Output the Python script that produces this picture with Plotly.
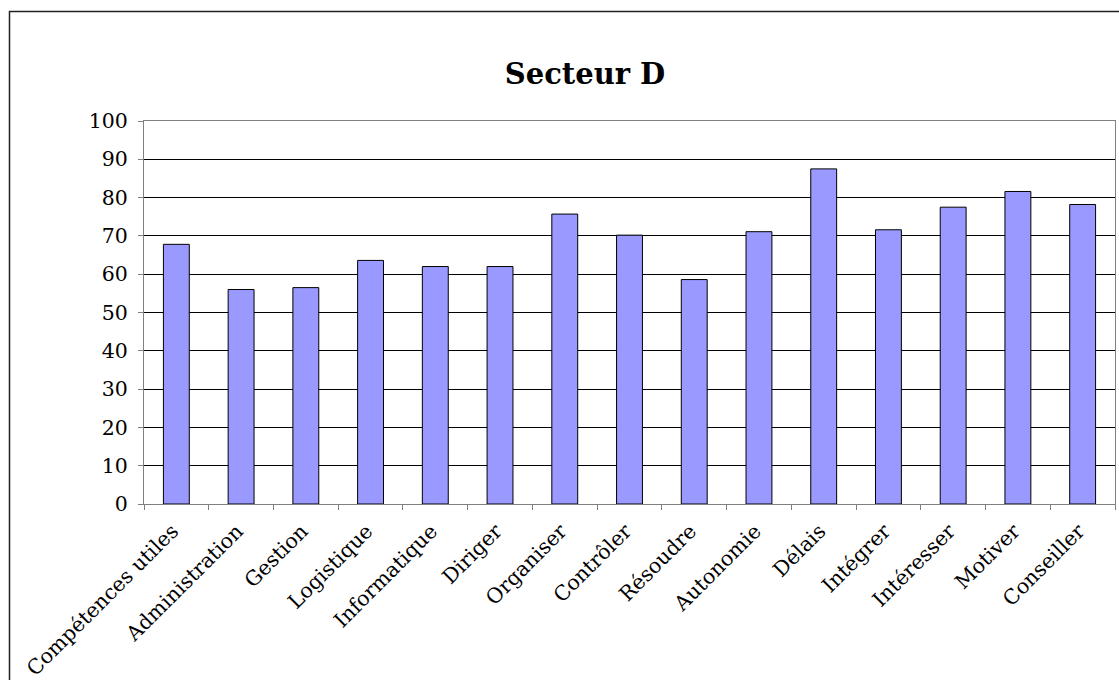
import plotly.graph_objects as go

# Scores by skill for sector D
categories = [
    "Compétences utiles", "Administration", "Gestion", "Logistique",
    "Informatique", "Diriger", "Organiser", "Contrôler", "Résoudre",
    "Autonomie", "Délais", "Intégrer", "Intéresser", "Motiver", "Conseiller",
]
scores = [67.8, 56.0, 56.5, 63.6, 62.0, 62.0, 75.7, 70.2, 58.6,
          71.1, 87.5, 71.6, 77.5, 81.6, 78.2]
y_ticks = [0, 10, 20, 30, 40, 50, 60, 70, 80, 90, 100]

W, H = 1119, 680
L, R, T, B = 144, 4, 121, 176
pw, ph = W - L - R, H - T - B

FONT = "DejaVu Serif"

fig = go.Figure(
    go.Bar(
        x=categories,
        y=scores,
        marker=dict(color="#9999FF", line=dict(color="black", width=1)),
        width=0.4,
    )
)

def px_to_paper_x(px):
    return (px - L) / pw

def px_to_paper_y(py):
    return (H - B - py) / ph

fig.update_layout(
    width=W,
    height=H,
    margin=dict(l=L, r=R, t=T, b=B, autoexpand=False),
    paper_bgcolor="white",
    plot_bgcolor="white",
    showlegend=False,
    title=dict(
        text="<b>Secteur D</b>",
        font=dict(family=FONT, size=29, color="black"),
        x=px_to_paper_x(585), xref="paper", xanchor="center",
        y=1 - 74 / H, yref="container", yanchor="middle",
    ),
    xaxis=dict(
        type="category",
        tickangle=-45,
        tickson="boundaries",
        ticks="outside",
        ticklen=5,
        tickcolor="#808080",
        showline=True,
        linecolor="#808080",
        linewidth=1,
        mirror=True,
        showgrid=False,
        automargin=False,
        tickfont=dict(family=FONT, size=20.5, color="black"),
        ticklabelstandoff=6,
        ticklabelshift=-4,
        fixedrange=True,
    ),
    yaxis=dict(
        range=[0, 100],
        tickvals=y_ticks,
        ticks="outside",
        ticklen=5,
        tickcolor="#808080",
        showline=True,
        linecolor="#808080",
        linewidth=1,
        mirror=True,
        showgrid=True,
        gridcolor="black",
        gridwidth=1,
        zeroline=False,
        automargin=False,
        tickfont=dict(family=FONT, size=20.5, color="black"),
        ticklabelstandoff=6,
        fixedrange=True,
    ),
    shapes=[
        dict(
            type="rect", xref="paper", yref="paper",
            x0=px_to_paper_x(9.5), x1=px_to_paper_x(W + 20),
            y0=px_to_paper_y(H + 20), y1=px_to_paper_y(11.5),
            line=dict(color="#222222", width=1.5),
            fillcolor="rgba(0,0,0,0)",
            layer="above",
        )
    ],
)

fig.write_html("out.html")
